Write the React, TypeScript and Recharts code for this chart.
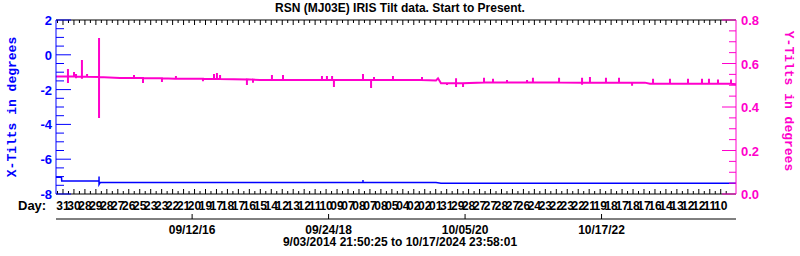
import React from 'react';
import { ComposedChart, Line, XAxis, YAxis } from 'recharts';

// days since 9/03/2014 21:50:25
const DAY_END = 3697;

// X tilt (degrees, left axis)
const xTiltDays = [0, 30, 31, 234, 234, 234, 240, 1100, 1669, 1669, 1669, 2066, 2093, 2600, 3200, 3697];
const xTilt = [-7.04, -7.04, -7.25, -7.25, -7.0, -7.45, -7.34, -7.34, -7.34, -7.2, -7.34, -7.34, -7.38, -7.38, -7.38, -7.38];

// Y tilt (degrees, right axis)
const yTiltDays = [
  0, 60, 65, 65, 65, 65, 98, 98, 98, 109, 109, 109, 109, 141, 141, 141, 141, 169, 169, 169,
  234, 234, 234, 234, 348, 424, 424, 424, 473, 473, 473, 576, 576, 576, 647, 652, 652, 652,
  799, 799, 799, 859, 859, 859, 875, 875, 875, 892, 892, 892, 1038, 1038, 1038, 1071, 1071, 1071,
  1109, 1174, 1174, 1174, 1234, 1234, 1234, 1446, 1446, 1446, 1473, 1473, 1473, 1501, 1501, 1501,
  1511, 1511, 1511, 1669, 1669, 1669, 1713, 1713, 1713, 1729, 1729, 1729, 1832, 1832, 1832,
  1990, 1990, 1990, 2066, 2077, 2093, 2126, 2126, 2126, 2175, 2175, 2175, 2175, 2213, 2213, 2213,
  2327, 2327, 2327, 2376, 2376, 2376, 2452, 2452, 2452, 2561, 2561, 2561, 2593, 2593, 2593,
  2735, 2735, 2735, 2860, 2860, 2860, 2860, 2903, 2903, 2903, 2990, 2990, 2990, 3061, 3061, 3061,
  3132, 3132, 3132, 3202, 3229, 3246, 3246, 3246, 3338, 3338, 3338, 3436, 3436, 3436,
  3512, 3512, 3512, 3550, 3550, 3550, 3599, 3599, 3599, 3670, 3670, 3670, 3697,
];
const yTilt = [
  0.540, 0.540, 0.540, 0.575, 0.510, 0.540, 0.540, 0.561, 0.540, 0.540, 0.552, 0.532, 0.539, 0.539, 0.616, 0.530, 0.539, 0.539, 0.552, 0.539,
  0.538, 0.717, 0.349, 0.538, 0.533, 0.533, 0.547, 0.533, 0.533, 0.510, 0.533, 0.532, 0.515, 0.532, 0.530, 0.530, 0.543, 0.530,
  0.530, 0.518, 0.530, 0.529, 0.552, 0.529, 0.529, 0.556, 0.529, 0.529, 0.547, 0.529, 0.527, 0.501, 0.527, 0.526, 0.512, 0.526,
  0.524, 0.524, 0.547, 0.524, 0.524, 0.547, 0.524, 0.524, 0.543, 0.524, 0.524, 0.543, 0.524, 0.524, 0.543, 0.524,
  0.524, 0.492, 0.524, 0.524, 0.552, 0.524, 0.524, 0.487, 0.524, 0.524, 0.538, 0.524, 0.524, 0.543, 0.524,
  0.524, 0.538, 0.524, 0.522, 0.532, 0.509, 0.509, 0.501, 0.509, 0.509, 0.492, 0.532, 0.509, 0.509, 0.492, 0.509,
  0.513, 0.534, 0.513, 0.513, 0.530, 0.513, 0.513, 0.524, 0.513, 0.513, 0.524, 0.513, 0.513, 0.535, 0.513,
  0.513, 0.535, 0.513, 0.512, 0.535, 0.502, 0.512, 0.512, 0.538, 0.512, 0.512, 0.535, 0.512, 0.512, 0.535, 0.512,
  0.512, 0.498, 0.512, 0.512, 0.507, 0.507, 0.530, 0.507, 0.507, 0.530, 0.507, 0.507, 0.530, 0.507,
  0.507, 0.530, 0.507, 0.507, 0.530, 0.507, 0.507, 0.526, 0.507, 0.507, 0.526, 0.507, 0.505,
];

// day-of-month labels along the bottom
const dayLabels = [
  '31', '30', '28', '29', '28', '27', '26', '25', '23', '23', '22', '21', '20', '19', '17', '18', '17', '16', '15', '14',
  '12', '13', '12', '11', '10', '09', '07', '08', '07', '08', '05', '04', '02', '02', '01', '31', '29', '28', '27', '27',
  '28', '27', '26', '24', '23', '22', '23', '22', '21', '19', '18', '17', '18', '17', '16', '14', '13', '12', '12', '11', '10',
];
const FIRST_LABEL_DAY = 38;
const LABEL_STEP = 59.6;

const dateTicks = [740, 1482, 2224, 2966];
const dateLabels = ['09/12/16', '09/24/18', '10/05/20', '10/17/22'];

const leftTicks = Array.from({ length: 21 }, (_, i) => -8 + i * 0.5);
const rightTicks = Array.from({ length: 17 }, (_, i) => Math.round(i * 5) / 100);

const dayTicks = Array.from({ length: dayLabels.length * 2 + 1 }, (_, k) => FIRST_LABEL_DAY + ((k - 1) * LABEL_STEP) / 2);
const dayLabelMap = new Map<number, string>();
dayTicks.forEach((v, k) => {
  if (k % 2 === 1) dayLabelMap.set(v, dayLabels[(k - 1) / 2]);
});

const xRows = xTiltDays.map((d, i) => ({ day: d, x: xTilt[i] }));
const yRows = yTiltDays.map((d, i) => ({ day: d, y: yTilt[i] }));

const BLUE = '#0000ff';
const PINK = '#ff00cc';
const SANS = '"Liberation Sans", Arial, sans-serif';

const LeftTick = ({ x, y, payload }: any) => {
  const v = payload.value;
  const major = Math.abs(v / 2 - Math.round(v / 2)) < 1e-6;
  return (
    <g>
      <line x1={x} x2={x + (major ? 15 : 8)} y1={y} y2={y} stroke={BLUE} />
      {major && (
        <text x={x - 4} y={y + 5} textAnchor="end" fill={BLUE} fontSize={13} fontWeight="bold" fontFamily={SANS}>
          {v}
        </text>
      )}
    </g>
  );
};

const RightTick = ({ x, y, payload }: any) => {
  const v = payload.value;
  const major = Math.abs(v * 5 - Math.round(v * 5)) < 1e-6;
  return (
    <g>
      <line x1={x} x2={x - (major ? 14 : 7)} y1={y} y2={y} stroke={PINK} />
      {major && (
        <text x={x + 5} y={y + 5} textAnchor="start" fill={PINK} fontSize={13} fontWeight="bold" fontFamily={SANS}>
          {v.toFixed(1)}
        </text>
      )}
    </g>
  );
};

const TopTick = ({ x, y, payload }: any) => {
  const long = dayLabelMap.has(payload.value);
  return <line x1={x} x2={x} y1={y} y2={y + (long ? 5 : 3)} stroke="#000" />;
};

const DayTick = ({ x, y, payload }: any) => {
  const label = dayLabelMap.get(payload.value);
  return (
    <g>
      <line x1={x} x2={x} y1={y} y2={y - (label ? 5 : 3)} stroke="#000" />
      {label && (
        <text x={x} y={y + 16} textAnchor="middle" fill="#000" fontSize={12} fontWeight="bold" fontFamily={SANS}>
          {label}
        </text>
      )}
    </g>
  );
};

const DateTick = ({ x, y, payload }: any) => {
  const i = dateTicks.indexOf(payload.value);
  return (
    <g>
      <line x1={x} x2={x} y1={y} y2={y - 5} stroke="#000" />
      <text x={x} y={y + 15} textAnchor="middle" fill="#000" fontSize={12} fontWeight="bold" fontFamily={SANS}>
        {dateLabels[i]}
      </text>
    </g>
  );
};

export default function App() {
  return (
    <div style={{ position: 'absolute', left: 0, top: 0, width: 800, height: 256, background: '#fff' }}>
      <ComposedChart width={800} height={256} margin={{ top: 0, right: 0, bottom: 0, left: 0 }}>
        <XAxis
          xAxisId="top"
          orientation="top"
          type="number"
          dataKey="day"
          domain={[0, DAY_END]}
          allowDataOverflow
          height={20}
          ticks={dayTicks}
          interval={0}
          tick={<TopTick />}
          tickLine={false}
          tickSize={0}
          tickMargin={0}
          axisLine={{ stroke: '#000' }}
        />
        <XAxis
          xAxisId="b"
          orientation="bottom"
          type="number"
          dataKey="day"
          domain={[0, DAY_END]}
          allowDataOverflow
          height={37}
          ticks={dateTicks}
          interval={0}
          tick={<DateTick />}
          tickLine={false}
          tickSize={0}
          tickMargin={0}
          axisLine={{ stroke: '#000' }}
        />
        <XAxis
          xAxisId="a"
          orientation="bottom"
          type="number"
          dataKey="day"
          domain={[0, DAY_END]}
          allowDataOverflow
          height={25}
          ticks={dayTicks}
          interval={0}
          tick={<DayTick />}
          tickLine={false}
          tickSize={0}
          tickMargin={0}
          axisLine={{ stroke: '#000' }}
        />
        <YAxis
          yAxisId="left"
          orientation="left"
          type="number"
          domain={[-8, 2]}
          allowDataOverflow
          width={56}
          ticks={leftTicks}
          interval={0}
          tick={<LeftTick />}
          tickLine={false}
          tickSize={0}
          tickMargin={0}
          axisLine={{ stroke: BLUE }}
        />
        <YAxis
          yAxisId="right"
          orientation="right"
          type="number"
          domain={[0, 0.8]}
          allowDataOverflow
          width={64}
          ticks={rightTicks}
          interval={0}
          tick={<RightTick />}
          tickLine={false}
          tickSize={0}
          tickMargin={0}
          axisLine={{ stroke: PINK }}
        />
        <Line
          data={xRows}
          xAxisId="a"
          yAxisId="left"
          dataKey="x"
          type="linear"
          stroke={BLUE}
          strokeWidth={1.5}
          dot={false}
          isAnimationActive={false}
        />
        <Line
          data={yRows}
          xAxisId="a"
          yAxisId="right"
          dataKey="y"
          type="linear"
          stroke={PINK}
          strokeWidth={2}
          dot={false}
          isAnimationActive={false}
        />
      </ComposedChart>
      <svg width={800} height={256} style={{ position: 'absolute', left: 0, top: 0, pointerEvents: 'none' }}>
        <text x={400} y={12} textAnchor="middle" fontSize={12} fontWeight="bold" fontFamily={SANS} fill="#000">
          RSN (MJ03E) IRIS Tilt data. Start to Present.
        </text>
        <text x={18} y={210} fontSize={13} fontWeight="bold" fontFamily={SANS} fill="#000">
          Day:
        </text>
        <text x={400} y={246} textAnchor="middle" fontSize={12} fontWeight="bold" fontFamily={SANS} fill="#000">
          9/03/2014 21:50:25 to 10/17/2024 23:58:01
        </text>
        <text
          x={12}
          y={107}
          transform="rotate(-90 12 107)"
          textAnchor="middle"
          dominantBaseline="central"
          fontSize={13}
          fontWeight="bold"
          fontFamily='"Liberation Mono", monospace'
          fill={BLUE}
        >
          X-Tilts in degrees
        </text>
        <text
          x={788}
          y={101}
          transform="rotate(90 788 101)"
          textAnchor="middle"
          dominantBaseline="central"
          fontSize={13}
          fontWeight="bold"
          fontFamily='"Liberation Mono", monospace'
          fill={PINK}
        >
          Y-Tilts in degrees
        </text>
      </svg>
    </div>
  );
}
